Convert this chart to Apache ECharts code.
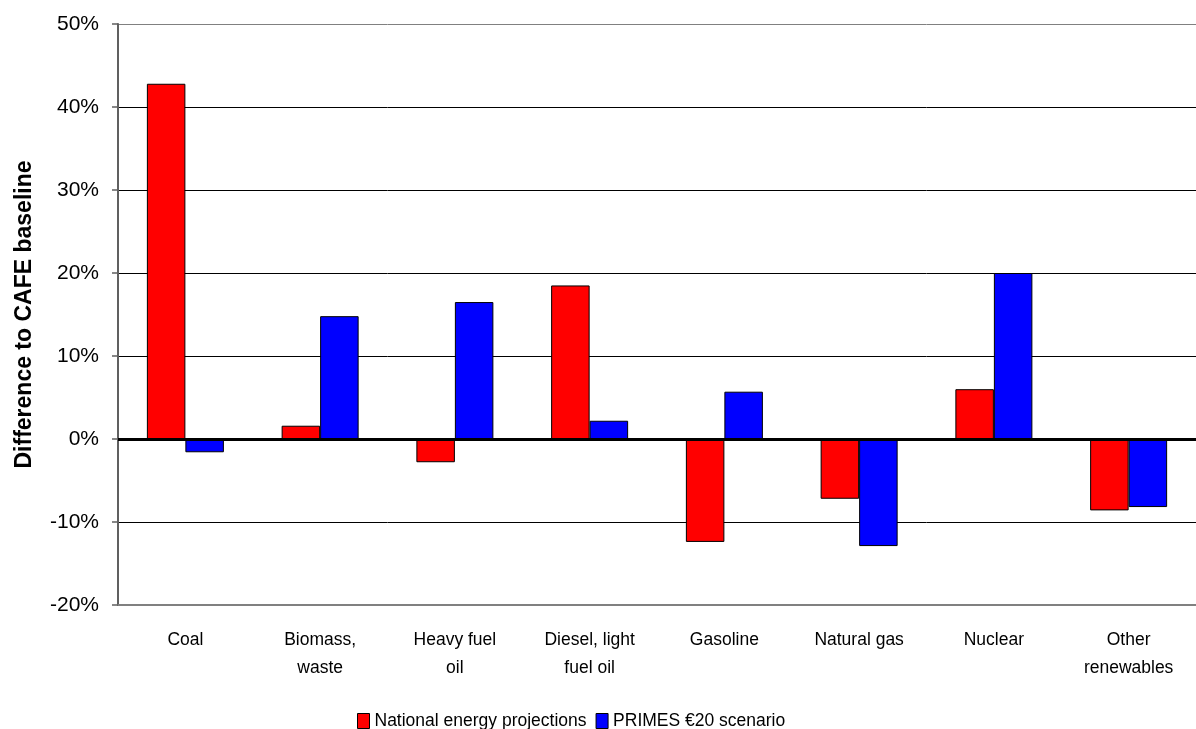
<!DOCTYPE html>
<html>
<head>
<meta charset="utf-8">
<script src="https://cdn.jsdelivr.net/npm/echarts@6/dist/echarts.min.js"></script>
<style>
  html, body { margin: 0; padding: 0; background: #ffffff; }
  #chart { width: 1196px; height: 729px; }
</style>
</head>
<body>
<div id="chart"></div>
<script>
// Fuel categories (line breaks as shown under the axis)
const categories = [
  'Coal', 'Biomass,\nwaste', 'Heavy fuel\noil', 'Diesel, light\nfuel oil',
  'Gasoline', 'Natural gas', 'Nuclear', 'Other\nrenewables'
];
// Difference to the CAFE baseline, in percent
const nationalProjections = [42.8, 1.6, -2.8, 18.5, -12.4, -7.2, 6.0, -8.6];
const primes20 = [-1.6, 14.8, 16.5, 2.2, 5.7, -12.9, 20.0, -8.2];
const seriesNames = ['National energy projections', 'PRIMES €20 scenario'];
const yTicks = { min: -20, max: 50, step: 10 };

const sans = "'Liberation Sans', Arial, sans-serif";

const chart = echarts.init(document.getElementById('chart'), null, { renderer: 'canvas' });

const barStyle = (color) => ({ color: color, borderColor: '#000', borderWidth: 1 });

chart.setOption({
  animation: false,
  backgroundColor: '#ffffff',
  grid: { left: 118, top: 24, width: 1082, height: 581, containLabel: false },
  legend: {
    left: 352,
    top: 707,
    itemWidth: 12,
    itemHeight: 15,
    itemGap: 9,
    icon: 'rect',
    textStyle: { fontFamily: sans, fontSize: 17.5, color: '#000' },
    data: [
      { name: seriesNames[0], itemStyle: barStyle('#ff0000') },
      { name: seriesNames[1], itemStyle: barStyle('#0000ff') }
    ]
  },
  xAxis: {
    type: 'category',
    data: categories,
    axisLine: { show: true, onZero: false, lineStyle: { color: '#808080', width: 2 } },
    axisTick: { show: false },
    axisLabel: {
      interval: 0,
      margin: 21,
      fontFamily: sans,
      fontSize: 17.5,
      lineHeight: 28,
      color: '#000'
    },
    splitLine: { show: false }
  },
  yAxis: {
    type: 'value',
    min: yTicks.min,
    max: yTicks.max,
    interval: yTicks.step,
    name: 'Difference to CAFE baseline',
    nameLocation: 'middle',
    nameGap: 82,
    nameTextStyle: { fontFamily: sans, fontSize: 23, fontWeight: 'bold', color: '#000' },
    axisLine: { show: true, lineStyle: { color: '#606060', width: 2 } },
    axisTick: { show: true, length: 6, lineStyle: { color: '#606060', width: 1.5 } },
    axisLabel: {
      margin: 19,
      fontFamily: sans,
      fontSize: 21,
      color: '#000',
      formatter: (v) => v + '%'
    },
    splitLine: {
      show: true,
      lineStyle: {
        color: ['#808080', '#000', '#000', '#000', '#000', '#000', '#000', '#808080'],
        width: 1
      }
    }
  },
  series: [
    {
      name: seriesNames[0],
      type: 'bar',
      data: nationalProjections,
      barWidth: 38.5,
      barGap: '0%',
      itemStyle: barStyle('#ff0000'),
      markLine: {
        silent: true,
        symbol: ['none', 'none'],
        label: { show: false },
        lineStyle: { color: '#000', width: 3, type: 'solid' },
        data: [{ yAxis: 0 }]
      }
    },
    {
      name: seriesNames[1],
      type: 'bar',
      data: primes20,
      barWidth: 38.5,
      barGap: '0%',
      itemStyle: barStyle('#0000ff')
    }
  ]
});
</script>
</body>
</html>
